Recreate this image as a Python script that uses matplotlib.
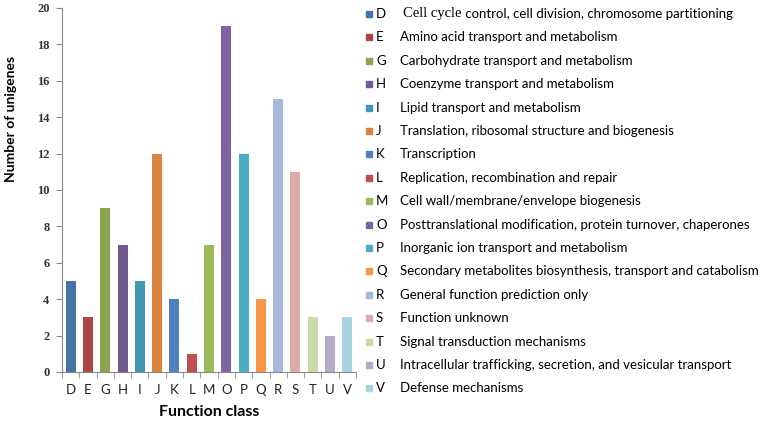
import matplotlib.pyplot as plt
from matplotlib.patches import Rectangle

# COG function classes and counts
classes = ['D', 'E', 'G', 'H', 'I', 'J', 'K', 'L', 'M', 'O', 'P', 'Q', 'R', 'S', 'T', 'U', 'V']
counts = [5, 3, 9, 7, 5, 12, 4, 1, 7, 19, 12, 4, 15, 11, 3, 2, 3]
descriptions = [
    'Cell cycle control, cell division, chromosome partitioning',
    'Amino acid transport and metabolism',
    'Carbohydrate transport and metabolism',
    'Coenzyme transport and metabolism',
    'Lipid transport and metabolism',
    'Translation, ribosomal structure and biogenesis',
    'Transcription',
    'Replication, recombination and repair',
    'Cell wall/membrane/envelope biogenesis',
    'Posttranslational modification, protein turnover, chaperones',
    'Inorganic ion transport and metabolism',
    'Secondary metabolites biosynthesis, transport and catabolism',
    'General function prediction only',
    'Function unknown',
    'Signal transduction mechanisms',
    'Intracellular trafficking, secretion, and vesicular transport',
    'Defense mechanisms',
]
colors = ['#4572A7', '#AA4643', '#89A54E', '#71588F', '#4198AF', '#DB843D', '#4F81BD',
          '#C0504D', '#9BBB59', '#8064A2', '#4BACC6', '#F79646', '#A7B9DA', '#DDA9A9',
          '#C9DBA9', '#B7A9CC', '#A9D3E1']

W, H = 767, 421
fig = plt.figure(figsize=(W / 100, H / 100), dpi=100)
ax = fig.add_axes([62 / W, (H - 372) / H, 294 / W, 364 / H])

x = range(len(classes))
ax.bar(x, counts, width=0.58, color=colors)
ax.set_xlim(-0.5, len(classes) - 0.5)
ax.set_ylim(0, 20)
ax.set_yticks(range(0, 21, 2))
ax.set_yticklabels([str(v) for v in range(0, 21, 2)], family='Liberation Serif',
                   fontweight='bold', fontsize=9, color='#333333')
ax.set_xticks(list(x))
ax.set_xticklabels(classes, fontsize=9.5, family='Lato', color='#222222')
ax.set_xticks([i + 0.5 for i in range(-1, len(classes))], minor=True)
ax.tick_params(axis='x', which='major', length=0, pad=9)
ax.tick_params(axis='x', which='minor', length=4, color='#888888', direction='out')
ax.tick_params(axis='y', length=4, color='#888888', direction='out', pad=5)
for s in ['top', 'right']:
    ax.spines[s].set_visible(False)
for s in ['left', 'bottom']:
    ax.spines[s].set_color('#888888')
ax.set_ylabel('Number of unigenes', fontsize=10, fontweight='bold', family='Lato')
ax.yaxis.set_label_coords(-0.153, 0.696)
ax.set_xlabel('Function class', fontsize=11.5, fontweight='bold', family='Lato')
ax.xaxis.set_label_coords(0.5, -0.09)

# Legend drawn row by row
top, step = 14, 23.4
renderer = fig.canvas.get_renderer()
for i, (c, d, col) in enumerate(zip(classes, descriptions, colors)):
    yp = 1 - (top + i * step) / H
    fig.patches.append(Rectangle((366 / W, yp - 3 / H), 6 / W, 6 / H, color=col,
                                 transform=fig.transFigure, figure=fig))
    fig.text(376 / W, yp, c, fontsize=9.5, family='Lato', va='center')
    if i == 0:
        head, rest = d[:10], d[10:]
        t = fig.text(403 / W, yp, head, fontsize=10.5, family='Liberation Serif', va='center')
        ext = t.get_window_extent(renderer)
        fig.text(ext.x1 / W, yp, rest, fontsize=9.5, family='Lato', va='center')
    else:
        fig.text(400 / W, yp, d, fontsize=9.5, family='Lato', va='center')

fig.savefig('out.png', dpi=100)
